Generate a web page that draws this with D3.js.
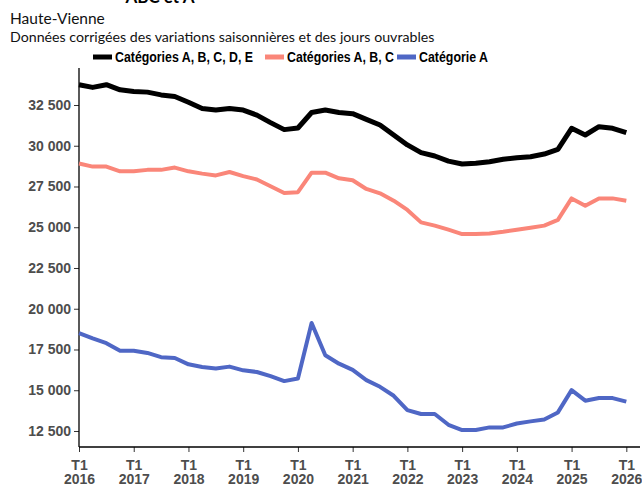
<!DOCTYPE html>
<html>
<head>
<meta charset="utf-8">
<script src="https://cdn.jsdelivr.net/npm/d3@7"></script>
<style>
  body { margin: 0; background: #fff; }
  svg { display: block; }
</style>
</head>
<body>
<div id="chart"></div>
<script>
//données trimestrielles, T1 2016 -> T1 2026
var annees = [2016, 2017, 2018, 2019, 2020, 2021, 2022, 2023, 2024, 2025, 2026];
var yTicks = [12500, 15000, 17500, 20000, 22500, 25000, 27500, 30000, 32500];
var seriesNoms = ["Catégories A, B, C, D, E", "Catégories A, B, C", "Catégorie A"];
var seriesCouleurs = ["#000000", "#fa8679", "#4f67c5"];

var serieABCDE = [33745, 33580, 33745, 33430, 33330, 33290, 33120, 33020, 32670, 32290,
  32190, 32290, 32190, 31880, 31420, 30990, 31090, 32040, 32190, 32040,
  31970, 31620, 31270, 30660, 30050, 29580, 29370, 29060, 28880, 28920,
  29020, 29170, 29270, 29330, 29490, 29780, 31070, 30660, 31170, 31070, 30800];
var serieABC = [28910, 28720, 28720, 28430, 28430, 28520, 28520, 28660, 28430, 28290,
  28180, 28390, 28140, 27930, 27520, 27100, 27150, 28350, 28350, 28000,
  27880, 27350, 27080, 26630, 26060, 25300, 25100, 24850, 24580, 24580,
  24620, 24720, 24850, 24970, 25100, 25450, 26770, 26320, 26770, 26770, 26630];
var serieA = [18510, 18180, 17890, 17420, 17420, 17290, 17030, 16980, 16590, 16430,
  16340, 16450, 16220, 16120, 15870, 15560, 15720, 19130, 17150, 16630,
  16250, 15620, 15210, 14660, 13780, 13540, 13540, 12880, 12560, 12560,
  12720, 12720, 12960, 13090, 13210, 13640, 15010, 14360, 14520, 14520, 14300];

var width = 642, height = 485;
var series = [serieABCDE, serieABC, serieA];
var epaisseurs = [5, 4, 4];

var svg = d3.select("#chart").append("svg")
  .attr("width", width)
  .attr("height", height);

//format français : espace pour les milliers
var fr = d3.formatLocale({decimal: ",", thousands: "\u00a0", grouping: [3], currency: ["", " €"]});
var fmt = fr.format(",d");

var x = d3.scaleLinear().domain([0, 41]).range([79, 640]);
var y = d3.scaleLinear().domain([11518, 34770]).range([447, 68]);

//titre (coupé en haut)
svg.append("text")
  .attr("x", 160).attr("y", 3)
  .attr("text-anchor", "middle")
  .attr("font-family", "Lato, sans-serif")
  .attr("font-weight", "bold")
  .attr("font-size", 17)
  .text("ABC et A");

svg.append("text")
  .attr("x", 10).attr("y", 24)
  .attr("font-family", "Lato, sans-serif")
  .attr("font-size", 15.5)
  .attr("fill", "#111")
  .text("Haute-Vienne");

svg.append("text")
  .attr("x", 10).attr("y", 42)
  .attr("font-family", "Lato, sans-serif")
  .attr("font-size", 14.2)
  .attr("fill", "#111")
  .text("Données corrigées des variations saisonnières et des jours ouvrables");

//légende (police un peu condensée, comme l'original)
var legX = [93, 265, 397];
var legW = [138, 107, 69];
var leg = svg.append("g")
  .attr("font-family", "Liberation Sans, Arial, sans-serif")
  .attr("font-weight", "bold")
  .attr("font-size", 14);
seriesNoms.forEach(function(nom, i) {
  leg.append("line")
    .attr("x1", legX[i]).attr("x2", legX[i] + 19)
    .attr("y1", 57).attr("y2", 57)
    .attr("stroke", seriesCouleurs[i])
    .attr("stroke-width", 5);
  leg.append("text")
    .attr("x", legX[i] + 22).attr("y", 62)
    .attr("fill", "#000")
    .attr("textLength", legW[i])
    .attr("lengthAdjust", "spacingAndGlyphs")
    .text(nom);
});

//axe Y
var yAxis = svg.append("g")
  .attr("transform", "translate(79,0)")
  .call(d3.axisLeft(y).tickValues(yTicks).tickFormat(fmt).tickSize(5).tickPadding(3));
yAxis.select(".domain").remove();
svg.append("line")
  .attr("x1", 79).attr("x2", 79).attr("y1", 68).attr("y2", 447)
  .attr("stroke", "#000").attr("stroke-width", 1.3);

//axe X
var xAxis = svg.append("g")
  .attr("transform", "translate(0,447)")
  .call(d3.axisBottom(x).tickValues(annees.map(function(a, i) { return i * 4; })).tickSize(5));
xAxis.select(".domain").remove();
xAxis.selectAll(".tick text").remove();
svg.append("line")
  .attr("x1", 79).attr("x2", 640).attr("y1", 447).attr("y2", 447)
  .attr("stroke", "#000").attr("stroke-width", 1.3);

[yAxis, xAxis].forEach(function(g) {
  g.selectAll(".tick line").attr("stroke", "#333");
  g.selectAll("text")
    .attr("font-family", "Liberation Sans, Arial, sans-serif")
    .attr("font-weight", "bold")
    .attr("font-size", 14)
    .attr("fill", "#4d4d4d");
});

//libellés trimestre + année
var lab = xAxis.selectAll(".tick").append("text")
  .attr("text-anchor", "middle")
  .attr("font-family", "Liberation Sans, Arial, sans-serif")
  .attr("font-weight", "bold")
  .attr("font-size", 14)
  .attr("fill", "#4d4d4d");
lab.append("tspan").attr("x", 0).attr("y", 23).text("T1");
lab.append("tspan").attr("x", 0).attr("y", 36.5).text(function(d) { return annees[d / 4]; });

//courbes
var line = d3.line()
  .x(function(d, i) { return x(i); })
  .y(function(d) { return y(d); });

series.forEach(function(s, i) {
  svg.append("path")
    .datum(s)
    .attr("fill", "none")
    .attr("stroke", seriesCouleurs[i])
    .attr("stroke-width", epaisseurs[i])
    .attr("stroke-linejoin", "round")
    .attr("d", line);
});
</script>
</body>
</html>
